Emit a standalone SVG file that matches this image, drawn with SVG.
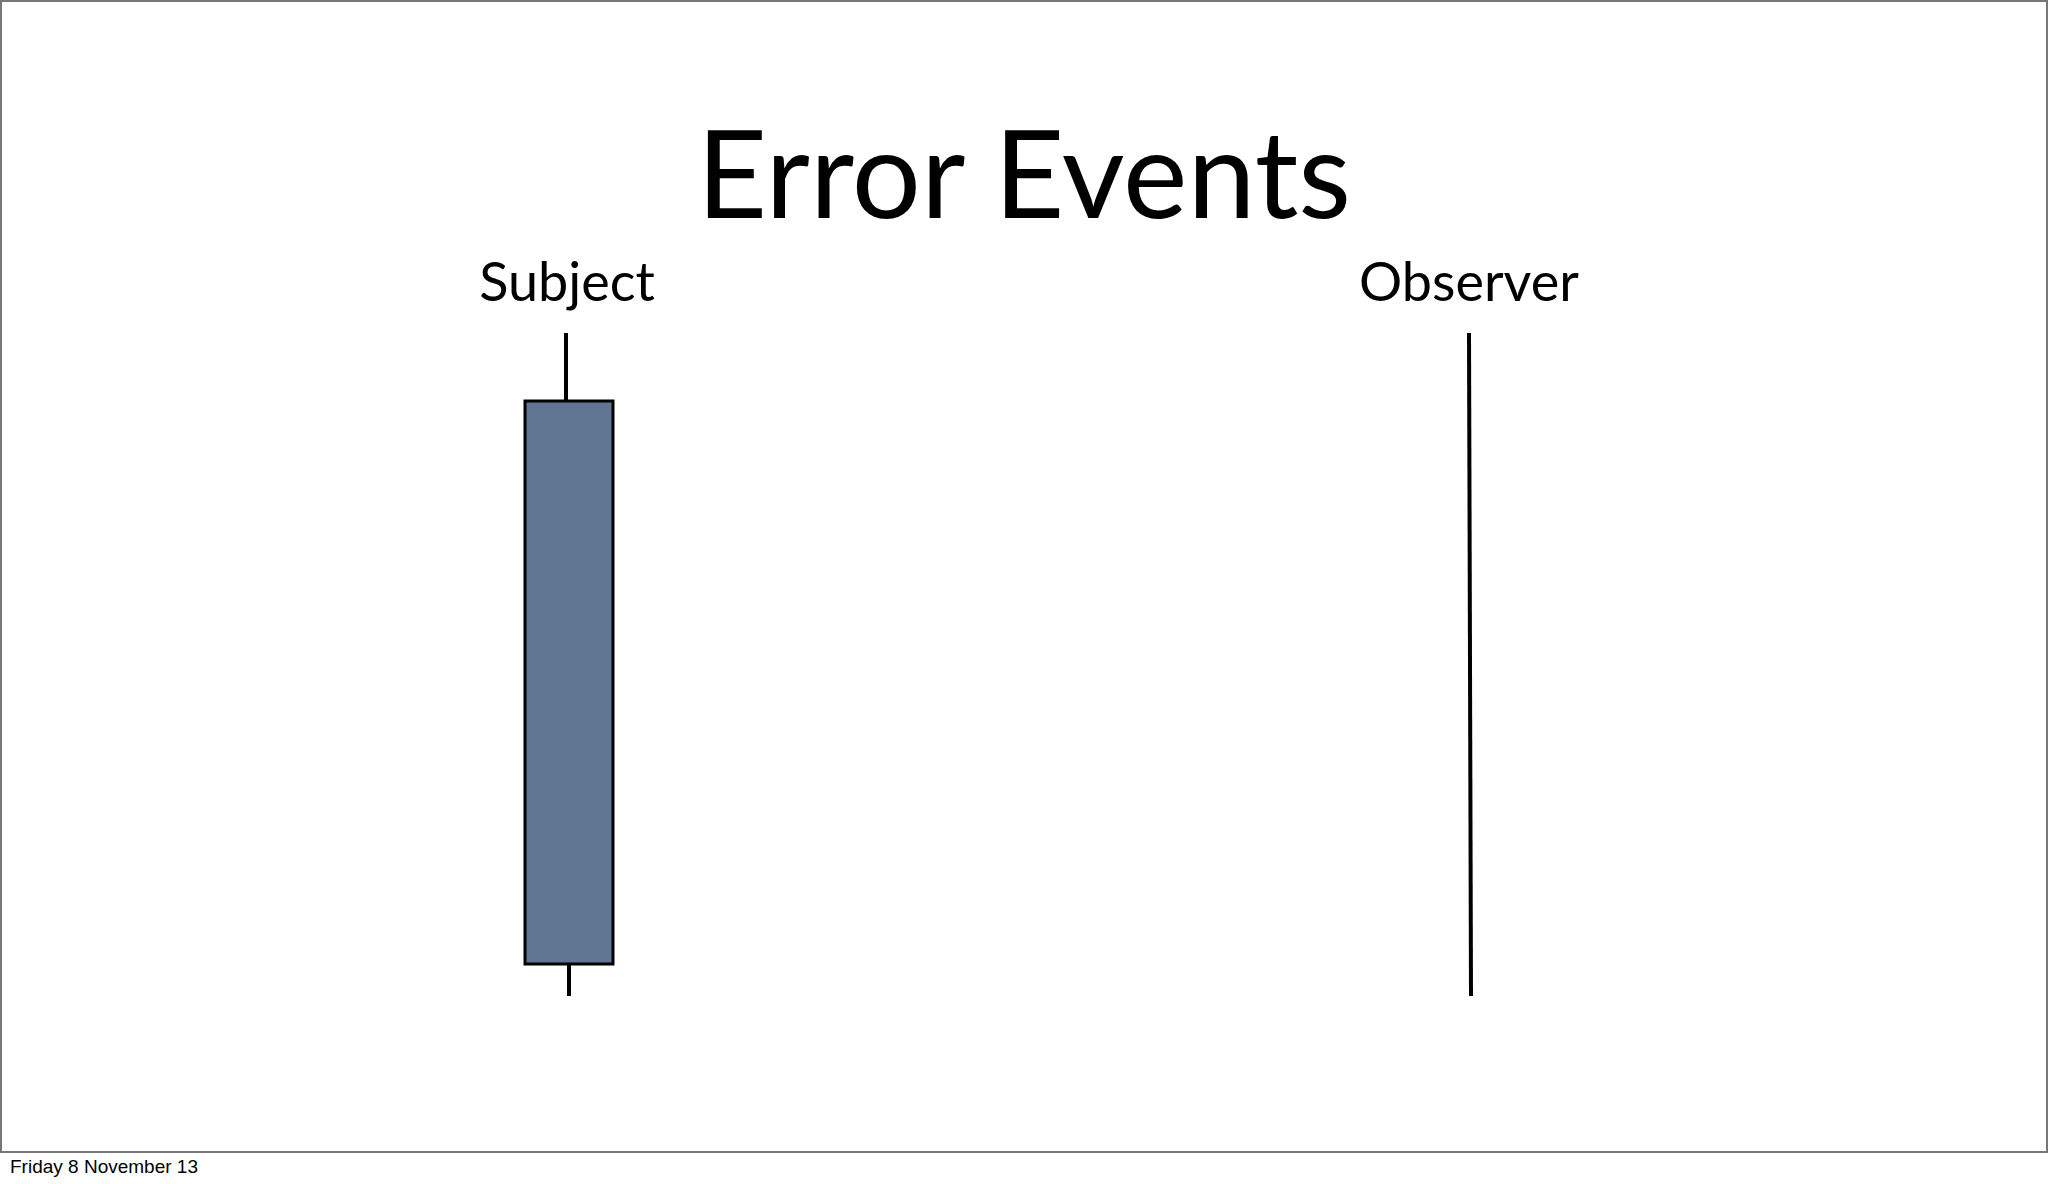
<svg xmlns="http://www.w3.org/2000/svg" width="2048" height="1184" viewBox="0 0 2048 1184">
<style>
.t{font-family:"Lato","Open Sans",sans-serif;fill:#000}
.l{stroke:#000;stroke-width:4;fill:none}
</style>
<rect x="0" y="0" width="2048" height="1184" fill="#fff"/>
<rect x="1" y="1" width="2046" height="1151" fill="none" stroke="#777" stroke-width="2"/>
<text class="t" x="1024" y="218" font-size="122" text-anchor="middle">Error Events</text>
<g id="subject">
<text class="t" x="567" y="301" font-size="54" text-anchor="middle">Subject</text>
<line class="l" x1="566" y1="333" x2="566" y2="401"/>
<rect x="525" y="401" width="88" height="563" fill="#5f7591" stroke="#000" stroke-width="3"/>
<line class="l" x1="569" y1="964" x2="569" y2="996"/>
</g>
<g id="observer">
<text class="t" x="1469" y="301" font-size="54" text-anchor="middle">Observer</text>
<line class="l" x1="1469" y1="333" x2="1471" y2="996"/>
</g>
<g id="connectors"></g>
<text x="10" y="1173" font-family="Liberation Sans,sans-serif" font-size="19">Friday 8 November 13</text>
</svg>
